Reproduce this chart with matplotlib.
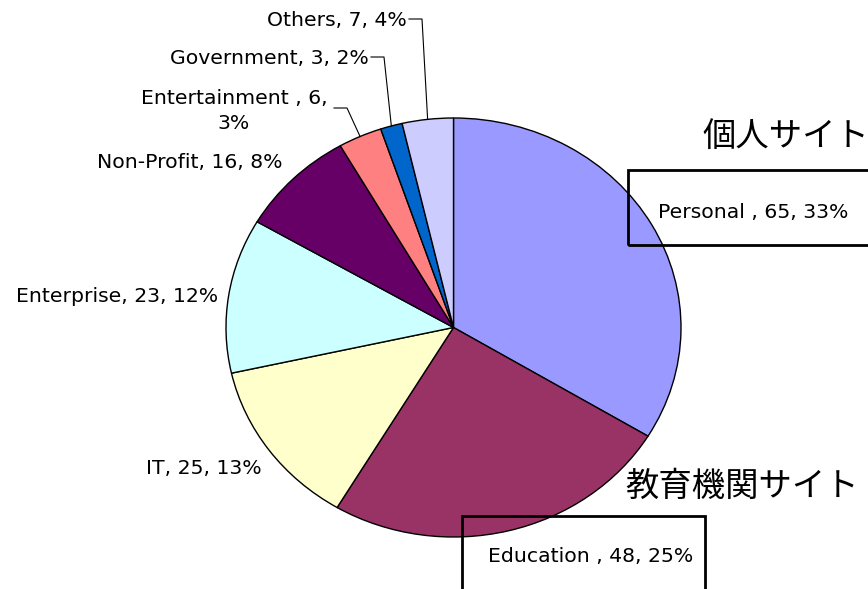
import numpy as np
import matplotlib
matplotlib.use("Agg")
import matplotlib.pyplot as plt
from matplotlib.patches import Rectangle

plt.rcParams['font.family'] = ['DejaVu Sans']

names = ["Personal ", "Education ", "IT", "Enterprise", "Non-Profit",
         "Entertainment ", "Government", "Others"]
values = [65, 48, 25, 23, 16, 6, 3, 7]
percents = [33, 25, 13, 12, 8, 3, 2, 4]
colors = ["#9999FF", "#993366", "#FFFFCC", "#CCFFFF", "#660066",
          "#FF8080", "#0066CC", "#CCCCFF"]
jp_personal = "個人サイト"
jp_education = "教育機関サイト"

W, H = 868, 589
fig = plt.figure(figsize=(W / 100, H / 100), dpi=100)
# pie ellipse spans x 226..681, y 118..537 (pixels)
ax = fig.add_axes([226 / W, (H - 537) / H, 455 / W, 419 / H])
wedges, _ = ax.pie(values, colors=colors, startangle=90, counterclock=False,
                   wedgeprops=dict(edgecolor="black", linewidth=1.0))
ax.set_aspect('auto')
ax.set_xlim(-1, 1)
ax.set_ylim(-1, 1)
ax.axis('off')

def P(px, py):
    """pixel position -> data coords of the pie axes (layout helper)"""
    return (px - 453.5) / 227.5, (327.5 - py) / 209.5

labels = [f"{n}, {v}, {p}%" for n, v, p in zip(names, values, percents)]
labels[5] = f"{names[5]}, {values[5]},\n{percents[5]}%"

fs = 14.7
# label layout: (pixel x, pixel y, ha)
layout = {
    0: (658, 212, 'left'),
    1: (488, 557, 'left'),
    2: (262, 468, 'right'),
    3: (218, 297, 'right'),
    4: (283, 162, 'right'),
    5: (234, 111, 'center'),
    6: (369, 58, 'right'),
    7: (407, 21, 'right'),
}
for i, (px, py, ha) in layout.items():
    x, y = P(px, py)
    ax.text(x, y, labels[i], ha=ha, va='center', fontsize=fs,
            multialignment='center', clip_on=False, linespacing=1.35)

# leader lines for the small slices
total = sum(values)
cum = np.cumsum([0] + values)
leader = {5: (334, 347, 108), 6: (371, 384, 57), 7: (409, 422, 19)}
for i, (x0, x1, ly) in leader.items():
    mid = 90 - (cum[i] + values[i] / 2) / total * 360
    ax_, ay_ = np.cos(np.radians(mid)), np.sin(np.radians(mid))
    a, b = P(x0, ly)
    c, _ = P(x1, ly)
    ax.plot([a, c, ax_], [b, b, ay_], color='black', lw=0.8, clip_on=False)

# boxes around the two highlighted labels
for (bx0, by0, bx1, by1) in [(628, 170, 900, 245), (462, 516, 705, 620)]:
    x0, y0 = P(bx0, by1)
    x1, y1 = P(bx1, by0)
    ax.add_patch(Rectangle((x0, y0), x1 - x0, y1 - y0, fill=False,
                           edgecolor='black', lw=2, clip_on=False))

jpfont = ['Noto Sans CJK JP', 'DejaVu Sans']
x, y = P(702, 136)
ax.text(x, y, jp_personal, fontsize=24, ha='left', va='center',
        family=jpfont, clip_on=False)
x, y = P(625, 486)
ax.text(x, y, jp_education, fontsize=24, ha='left', va='center',
        family=jpfont, clip_on=False)

fig.savefig("out.png", dpi=100)
